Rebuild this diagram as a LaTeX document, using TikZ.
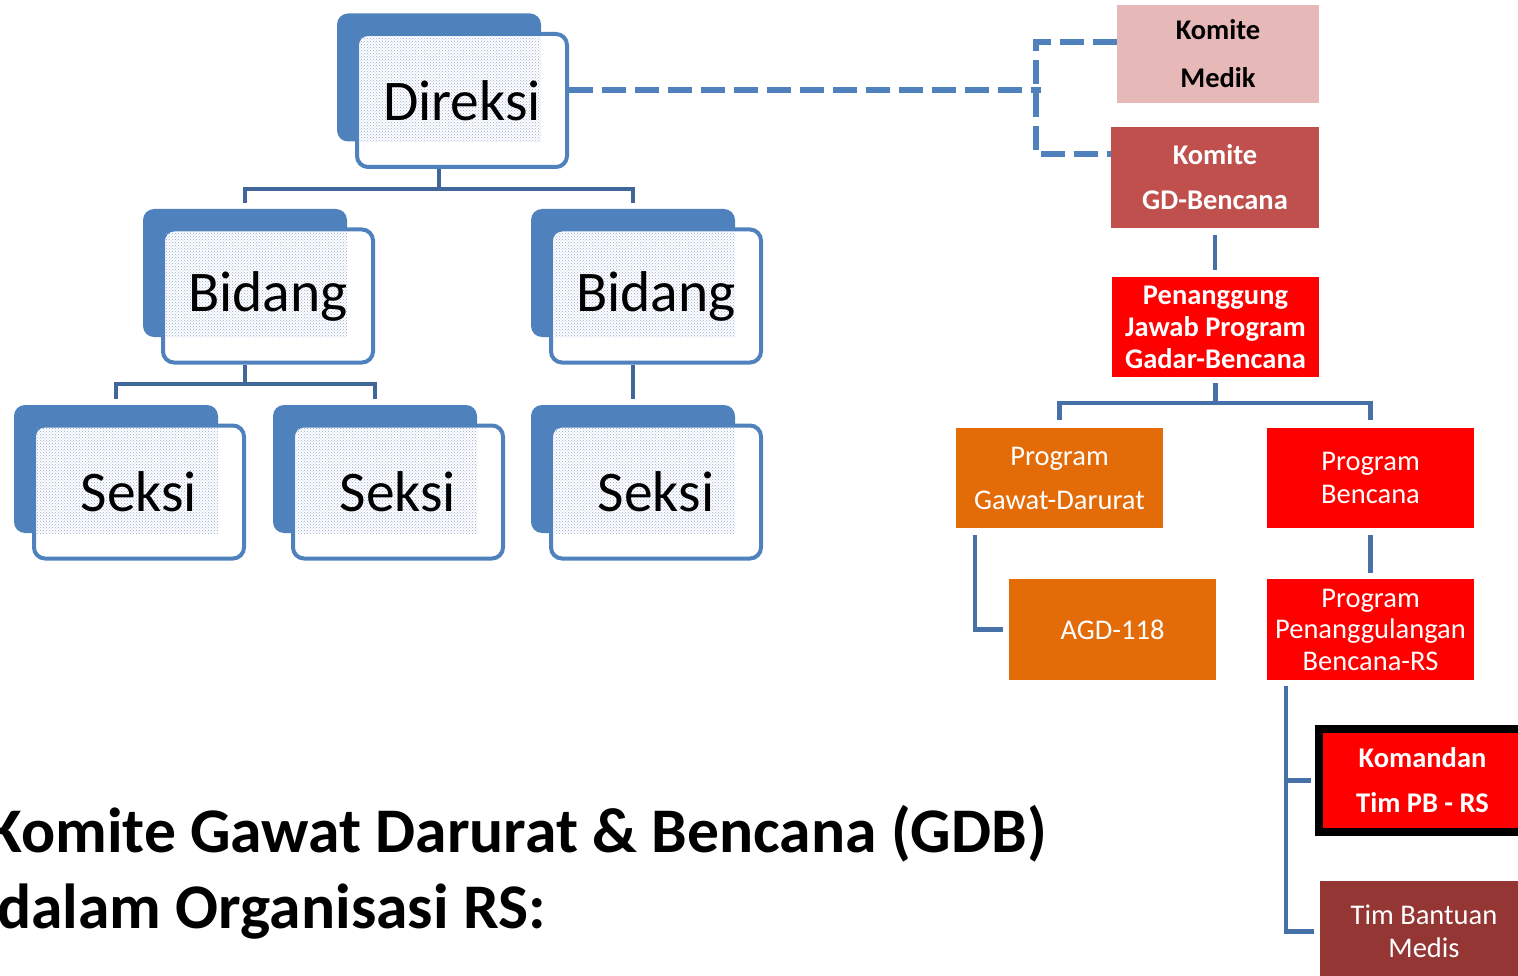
\documentclass[tikz,border=0pt]{standalone}
\usepackage{fontspec}
\setmainfont{Carlito}
\usetikzlibrary{calc,patterns}

\definecolor{unitblue}{HTML}{4F81BD}
\definecolor{treeblue}{HTML}{41669A}
\definecolor{linkblue}{HTML}{4671A8}
\definecolor{dotblue}{HTML}{8FA9D3}
\definecolor{medikpink}{HTML}{E6B8B7}
\definecolor{komitered}{HTML}{C0504D}
\definecolor{progorange}{HTML}{E36C09}
\definecolor{bantuanred}{HTML}{943634}
\definecolor{alertred}{HTML}{FF0000}

% one unit of the hospital hierarchy: solid back plate, white front card, dotted overlap, label
\newcommand\orgunit[4]{%
  \node[backbox] (#1-back) at ($(#2,#3)+(-23,-23)$) {};
  \node[frontbox] (#1) at (#2,#3) {};
  \path[pattern=crosshatch dots, pattern color=dotblue]
    ($(#1.north west)+(5,5)$) rectangle (#1-back.south east);
  \node[unitlabel] (#1-label) at (#1) {#4};}

\begin{document}
\begin{tikzpicture}[x=1pt,y=-1pt,
  backbox/.style={rectangle, fill=unitblue, rounded corners=11pt,
    minimum width=204pt, minimum height=128pt, inner sep=0pt},
  frontbox/.style={rectangle, draw=unitblue, line width=4pt, fill=white,
    rounded corners=11pt, minimum width=210pt, minimum height=133pt, inner sep=0pt},
  unitlabel/.style={inner sep=0pt, font=\fontsize{57.5pt}{60pt}\selectfont},
  treeline/.style={draw=treeblue, line width=4pt},
  rline/.style={draw=linkblue, line width=4.5pt},
  dashlink/.style={draw=unitblue, line width=6.5pt, dash pattern=on 24pt off 9pt},
  rbox/.style={rectangle, minimum width=207pt, minimum height=100pt, inner sep=0pt,
    align=center, text=white},
  boldtext/.style={font=\bfseries\fontsize{28.5pt}{#1}\selectfont},
  plaintext/.style={font=\fontsize{28.5pt}{#1}\selectfont},
  titletext/.style={inner sep=0pt, font=\bfseries\fontsize{63.6pt}{70pt}\selectfont}
]
\useasboundingbox (0,0) rectangle (1518,976);
\clip (0,0) rectangle (1518,976);

% ---------------- hospital hierarchy ----------------
\orgunit{dir}{462}{100.5}{Direksi}
\orgunit{bidL}{268}{296}{Bidang}
\orgunit{bidR}{656}{296}{Bidang}
\orgunit{sekA}{139}{492}{Seksi}
\orgunit{sekB}{398}{492}{Seksi}
\orgunit{sekC}{656}{492}{Seksi}

\coordinate (dirjoin) at ($(dir-back.south |- dir.south)+(0,20)$);
\draw[treeline] (dir-back.south |- dir.south) -- (dirjoin);
\draw[treeline, shorten >=6pt] (dirjoin) -| (bidL-back.north);
\draw[treeline, shorten >=6pt] (dirjoin) -| (bidR-back.north);

\coordinate (bidjoin) at ($(bidL-back.south |- bidL.south)+(0,19)$);
\draw[treeline] (bidL-back.south |- bidL.south) -- (bidjoin);
\draw[treeline, shorten >=6pt] (bidjoin) -| (sekA-back.north);
\draw[treeline, shorten >=6pt] (bidjoin) -| (sekB-back.north);

\draw[treeline, shorten >=6pt] (bidR-back.south |- bidR.south) -- (sekC-back.north);

% ---------------- committee structure ----------------
\node[rbox, fill=medikpink, text=black, minimum width=202pt, minimum height=98pt, boldtext=48pt]
  (medik) at (1218,54) {Komite\\Medik};
\node[rbox, fill=komitered, minimum width=208pt, minimum height=101pt, boldtext=45pt]
  (gdb) at (1215,177.5) {Komite\\GD-Bencana};
\node[rbox, fill=alertred, boldtext=32pt]
  (pj) at (1215.5,327) {Penanggung\\Jawab Program\\Gadar-Bencana};
\node[rbox, fill=progorange, plaintext=44pt]
  (pgd) at (1059.5,478) {Program\\Gawat-Darurat};
\node[rbox, fill=alertred, plaintext=33pt]
  (pb) at (1370.5,478) {Program\\Bencana};
\node[rbox, fill=progorange, minimum height=101pt, plaintext=34pt]
  (agd) at (1112.5,629.5) {AGD-118};
\node[rbox, fill=alertred, minimum height=101pt, plaintext=31.5pt]
  (ppb) at (1370.5,629.5) {Program\\Penanggulangan\\Bencana-RS};
\node[rbox, fill=alertred, draw=black, line width=8pt, minimum height=103pt, boldtext=45pt]
  (kom) at (1422.5,780.5) {Komandan\\Tim PB - RS};
\node[rbox, fill=bantuanred, minimum width=208pt, minimum height=101pt, plaintext=33pt]
  (tbm) at (1424,931.5) {Tim Bantuan\\Medis};

% dashed advisory link between the board and the committees
\coordinate (dhub) at (1041,90);
\coordinate (dtop) at (1036,42);
\coordinate (dbot) at (1036,154);
\draw[dashlink] (dir.east |- dhub) -- (dhub);
\draw[dashlink] (medik.west |- dtop) -- (dtop) -- (dbot) -- (gdb.west |- dbot);

% solid reporting lines
\draw[rline, shorten <=7pt, shorten >=7pt] (gdb.south) -- (gdb.south |- pj.north);
\coordinate (pjjoin) at ($(pj.south)+(0,26)$);
\draw[rline, shorten <=6pt] (pj.south) -- (pjjoin);
\draw[rline, shorten >=8pt] (pjjoin) -| (pgd.north);
\draw[rline, shorten >=8pt] (pjjoin) -| (pb.north);
\draw[rline] ($(pgd.south west)+(19,7)$) |- ([xshift=-6pt]agd.west);
\draw[rline, shorten <=7pt, shorten >=6pt] (pb.south) -- (ppb.north);
\coordinate (ppbdrop) at ($(ppb.south west)+(19,6)$);
\draw[rline] (ppbdrop) |- ([xshift=-6pt]tbm.west);
\draw[rline] (ppbdrop |- kom.west) -- ([xshift=-4pt]kom.west);

% ---------------- caption ----------------
\node[titletext, anchor=base east] (title1) at (1047,852)
  {Komite Gawat Darurat \& Bencana (GDB)};
\node[titletext, anchor=base west] (title2) at (-3,928)
  {dalam Organisasi RS:};
\end{tikzpicture}
\end{document}
